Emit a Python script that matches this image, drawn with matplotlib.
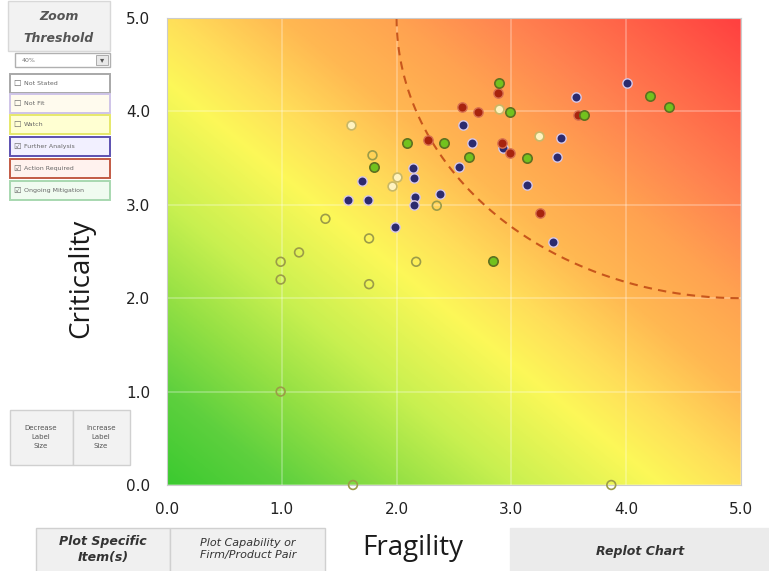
import numpy as np
import matplotlib
matplotlib.use('Agg')
import matplotlib.pyplot as plt
from matplotlib.colors import LinearSegmentedColormap
from matplotlib.patches import Rectangle

# data (fragility, criticality)
not_stated_x = [1.38, 1.15, 0.99, 0.99, 1.76, 1.76, 2.17, 0.99, 1.62, 3.87, 2.35, 1.79]
not_stated_y = [2.85, 2.49, 2.39, 2.20, 2.64, 2.15, 2.39, 1.00, 0.00, 0.00, 2.99, 3.53]

watch_x = [1.60, 2.89, 3.24, 1.96, 2.00]
watch_y = [3.85, 4.03, 3.74, 3.20, 3.30]

further_x = [1.58, 1.75, 1.70, 2.14, 2.15, 2.16, 2.15, 1.99, 2.38, 2.58, 2.66, 2.54,
             2.93, 3.14, 3.56, 3.43, 3.40, 3.36, 4.01]
further_y = [3.05, 3.05, 3.26, 3.39, 3.29, 3.08, 3.00, 2.76, 3.12, 3.85, 3.66, 3.40,
             3.61, 3.21, 4.15, 3.71, 3.51, 2.60, 4.30]

action_x = [2.27, 2.88, 2.57, 2.71, 2.92, 2.99, 3.58, 3.25]
action_y = [3.69, 4.20, 4.05, 3.99, 3.66, 3.55, 3.96, 2.91]

ongoing_x = [2.09, 2.41, 1.80, 2.89, 2.99, 2.63, 3.14, 3.63, 4.21, 4.37, 2.84]
ongoing_y = [3.66, 3.66, 3.40, 4.30, 3.99, 3.51, 3.50, 3.96, 4.16, 4.05, 2.40]

ticks = [0.0, 1.0, 2.0, 3.0, 4.0, 5.0]
legend_names = ['Not Stated', 'Not Fit', 'Watch', 'Further Analysis', 'Action Required', 'Ongoing Mitigation']
legend_checked = [False, False, False, True, True, True]

W, H = 769, 571
fig = plt.figure(figsize=(W / 100, H / 100), dpi=100)
fig.patch.set_facecolor('white')

ax = fig.add_axes([167 / W, 1 - 485 / H, (741 - 167) / W, (485 - 18) / H])

# background: linear diagonal gradient, green at origin to red at (5, 5)
cmap = LinearSegmentedColormap.from_list('risk', [
    (0.0, '#3cca30'), (0.1, '#5ed03e'), (0.2, '#94e044'), (0.3, '#c8f050'),
    (0.43, '#fcf858'), (0.5, '#ffe05a'), (0.6, '#ffb852'), (0.7, '#ffa250'),
    (0.8, '#ff8250'), (0.9, '#ff6248'), (1.0, '#ff4040')])
gx, gy = np.meshgrid(np.linspace(0, 5, 300), np.linspace(0, 5, 300))
ax.imshow((gx + gy) / 10, origin='lower', extent=[0, 5, 0, 5], cmap=cmap, vmin=0, vmax=1,
          aspect='auto', interpolation='bilinear', zorder=0)

ax.set_xlim(0, 5)
ax.set_ylim(0, 5)
ax.set_xticks(ticks)
ax.set_yticks(ticks)
ax.set_xticklabels(['%.1f' % t for t in ticks])
ax.set_yticklabels(['%.1f' % t for t in ticks])
ax.tick_params(length=0, labelsize=11, labelcolor='#222222', pad=12)
ax.grid(True, color='white', alpha=0.3, linewidth=1.2, zorder=1)
for s in ax.spines.values():
    s.set_color('#cccccc')
    s.set_linewidth(0.8)

# threshold curve: circle of radius 3 around (5, 5)
th = np.linspace(np.pi, 1.5 * np.pi, 200)
ax.plot(5 + 3 * np.cos(th), 5 + 3 * np.sin(th), color='#c8561c', lw=1.5,
        dashes=(4, 3), zorder=2)

ax.scatter(not_stated_x, not_stated_y, s=40, facecolors='none', edgecolors='#9c9c48',
           linewidths=1.2, zorder=3, clip_on=False)
ax.scatter(watch_x, watch_y, s=40, facecolors='#fff3c0', edgecolors='#c8b868',
           linewidths=1.2, zorder=3)
ax.scatter(further_x, further_y, s=45, color='#2c2a6e', edgecolors='#d8c8e8',
           linewidths=1.0, zorder=4)
ax.scatter(action_x, action_y, s=45, color='#a8240e', edgecolors='#d87050',
           linewidths=1.0, zorder=4)
ax.scatter(ongoing_x, ongoing_y, s=45, color='#72c21e', edgecolors='#5e7020',
           linewidths=1.2, zorder=4)

ax.set_xlabel('Fragility', fontsize=20, family='Open Sans', color='#1a1a1a')
ax.xaxis.set_label_coords((413 - 167) / (741 - 167), -0.105)
ax.set_ylabel('Criticality', fontsize=20, family='Open Sans', color='#1a1a1a')
ax.yaxis.set_label_coords(-(167 - 95) / (741 - 167), (485 - 278) / (485 - 18))


# left control panel
def box(x, y, w, h, fc, ec, lw=1.0):
    fig.add_artist(Rectangle((x / W, 1 - (y + h) / H), w / W, h / H, transform=fig.transFigure,
                             facecolor=fc, edgecolor=ec, linewidth=lw))


box(8, 1, 102, 50, '#f2f2f2', '#d8d8d8')
fig.text(59 / W, 1 - 16 / H, 'Zoom', ha='center', va='center', fontsize=9,
         style='italic', weight='bold', color='#555555')
fig.text(59 / W, 1 - 39 / H, 'Threshold', ha='center', va='center', fontsize=9,
         style='italic', weight='bold', color='#555555')
box(15, 53, 95, 14, 'white', '#b0b0b0')
fig.text(22 / W, 1 - 60 / H, '40%', ha='left', va='center', fontsize=4.5, color='#777777')
box(96, 55, 12, 10, '#e8e8e8', '#a0a0a0', 0.6)
fig.text(102 / W, 1 - 60 / H, '▾', ha='center', va='center', fontsize=6, color='#555555')

leg_fc = ['white', '#fffbee', '#ffffd2', '#f2f0ff', '#fff2ee', '#f0fbf0']
leg_ec = ['#a8a8a8', '#cfc4e8', '#e6e86a', '#5c50b0', '#c25a44', '#a8d8b0']
leg_top = [74, 94, 115, 137, 159, 181]
for name, fc, ec, top, chk in zip(legend_names, leg_fc, leg_ec, leg_top, legend_checked):
    box(10, top, 100, 19, fc, ec, 1.4)
    fig.text(17 / W, 1 - (top + 9.5) / H, '☑' if chk else '☐', ha='center', va='center',
             fontsize=6, color='#666666', family='DejaVu Sans')
    fig.text(24 / W, 1 - (top + 9.5) / H, name, ha='left', va='center', fontsize=4.5,
             color='#666666')

box(10, 410, 63, 55, '#f2f2f2', '#d0d0d0')
box(73, 410, 57, 55, '#f2f2f2', '#d0d0d0')
fig.text(41 / W, 1 - 437 / H, 'Decrease\nLabel\nSize', ha='center', va='center',
         fontsize=5, color='#555555', linespacing=1.5)
fig.text(101 / W, 1 - 437 / H, 'Increase\nLabel\nSize', ha='center', va='center',
         fontsize=5, color='#555555', linespacing=1.5)

# bottom buttons
box(36, 528, 134, 44, '#f0f0f0', '#d0d0d0')
box(170, 528, 155, 44, '#f0f0f0', '#d0d0d0')
box(510, 528, 259, 44, '#ebebeb', '#ebebeb')
fig.text(103 / W, 1 - 549 / H, 'Plot Specific\nItem(s)', ha='center', va='center',
         fontsize=9, style='italic', weight='bold', color='#333333', linespacing=1.3)
fig.text(248 / W, 1 - 549 / H, 'Plot Capability or\nFirm/Product Pair', ha='center',
         va='center', fontsize=8, style='italic', color='#333333', linespacing=1.3)
fig.text(640 / W, 1 - 551 / H, 'Replot Chart', ha='center', va='center', fontsize=9,
         style='italic', weight='bold', color='#333333')

fig.savefig('out.png', dpi=100)
